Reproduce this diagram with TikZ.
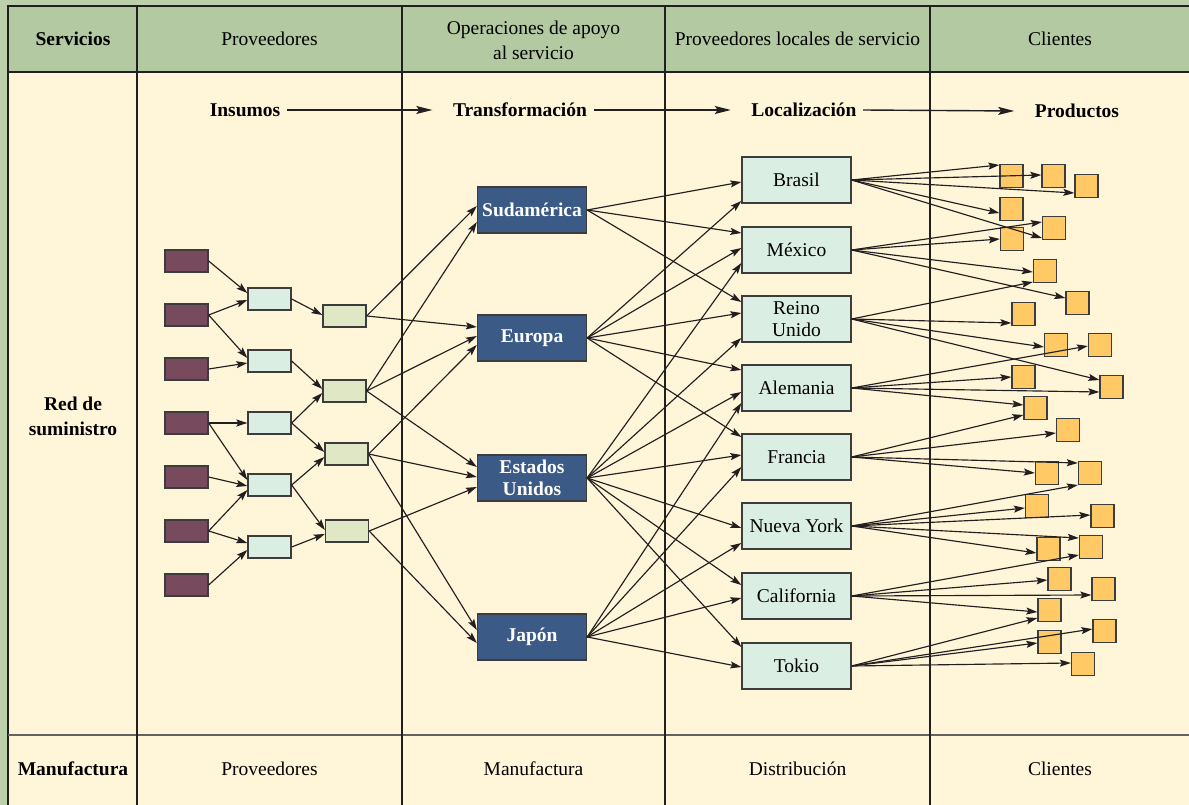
\documentclass[tikz,border=0pt]{standalone}
\usepackage{fontspec}
\setmainfont{Liberation Serif}
\usetikzlibrary{arrows.meta}
\definecolor{framec}{HTML}{BDD0AC}
\definecolor{hdrc}{HTML}{B3C9A1}
\definecolor{bodyc}{HTML}{FFF5D9}
\definecolor{purpc}{HTML}{784A5E}
\definecolor{cyanc}{HTML}{DAEEE4}
\definecolor{grc}{HTML}{DFE7C5}
\definecolor{bluec}{HTML}{3B5B86}
\definecolor{orc}{HTML}{FFC966}
\definecolor{inkc}{HTML}{231F20}
\definecolor{bordc}{HTML}{3C3C3C}
\newcommand\edgeto[3]{\draw[edgeline] (#1.east) -- ([yshift={-(#3)*1pt}]#2.west);}
\begin{document}
\begin{tikzpicture}[x=1pt,y=-1pt,
  every node/.style={font=\fontsize{19.5}{22}\selectfont, inner sep=0pt},
  txt/.style={font=\fontsize{19.5}{25}\selectfont, align=center, inner sep=6.5pt},
  btxt/.style={font=\fontsize{19.5}{25}\selectfont\bfseries, align=center, inner sep=6.5pt},
  box/.style={draw=bordc, line width=1.3pt, rectangle, inner sep=0pt},
  purpbox/.style={box, fill=purpc, minimum width=43pt, minimum height=22pt},
  cyanbox/.style={box, fill=cyanc, minimum width=43pt, minimum height=22pt},
  grbox/.style={box, fill=grc, minimum width=43pt, minimum height=22pt},
  contbox/.style={box, fill=bluec, text=white, font=\fontsize{19.5}{22}\selectfont\bfseries, align=center, minimum width=109pt, minimum height=46pt},
  regbox/.style={box, fill=cyanc, align=center, minimum width=109pt, minimum height=46pt},
  sq/.style={box, fill=orc, minimum width=23pt, minimum height=23pt},
  tline/.style={draw=inkc, line width=1.2pt},
  edgeline/.style={draw=inkc, line width=1.15pt, -{Stealth[length=11pt,width=7pt,inset=2pt]}},
  bigarrow/.style={draw=inkc, line width=1.4pt, -{Stealth[length=16pt,width=8pt,inset=3pt]}},
]
\useasboundingbox (0,0) rectangle (1189,805);
% frame and table
\fill[framec] (0,0) rectangle (1189,805);
\shade[left color=framec, middle color=framec!25!white, right color=framec] (0,0) rectangle (1189,6);
\fill[hdrc] (8,6) rectangle (1189,72);
\fill[bodyc] (8,72) rectangle (1189,805);
\draw[tline] (8,805) -- (8,6) -- (1189,6);
\draw[tline, line width=2pt] (8,72) -- (1189,72);
\draw[draw=bordc!80, line width=2.6pt] (8,735) -- (1189,735);
\foreach \x in {137,402,665,930} \draw[tline] (\x,6) -- (\x,805);

% header texts
\node[btxt] (hserv) at (73,39) {Servicios};
\node[txt] (hprov) at (269.5,39) {Proveedores};
\node[txt] (hoper) at (533.5,40) {Operaciones de apoyo\\al servicio};
\node[txt] (hloc) at (797.5,39) {Proveedores locales de servicio};
\node[txt] (hcli) at (1060,39) {Clientes};
% bottom texts
\node[btxt] (fman) at (73,769) {Manufactura};
\node[txt] (fprov) at (269.5,769) {Proveedores};
\node[txt] (fmanu) at (533.5,769) {Manufactura};
\node[txt] (fdist) at (797.5,769) {Distribución};
\node[txt] (fcli) at (1060,769) {Clientes};
% side label
\node[btxt] (red) at (73,416) {Red de\\suministro};

% stage labels
\node[btxt] (ins) at (245,110) {Insumos};
\node[btxt] (tra) at (520,110) {Transformación};
\node[btxt] (loc) at (804,110) {Localización};
\node[btxt] (pro) at (1077,111) {Productos};
\draw[bigarrow] (ins.east) -- ([xshift=-14pt]tra.west);
\draw[bigarrow] (tra.east) -- ([xshift=-14pt]loc.west);
\draw[bigarrow] (loc.east) -- ([xshift=-14pt]pro.west);

% suppliers
\node[purpbox] (P1) at (186.5,261) {};
\node[purpbox] (P2) at (186.5,315) {};
\node[purpbox] (P3) at (186.5,369) {};
\node[purpbox] (P4) at (186.5,423) {};
\node[purpbox] (P5) at (186.5,477) {};
\node[purpbox] (P6) at (186.5,531) {};
\node[purpbox] (P7) at (186.5,585) {};
\node[cyanbox] (C1) at (269.5,299) {};
\node[cyanbox] (C2) at (269.5,361) {};
\node[cyanbox] (C3) at (269.5,423) {};
\node[cyanbox] (C4) at (269.5,485) {};
\node[cyanbox] (C5) at (269.5,547) {};
\node[grbox] (G1) at (344.5,316) {};
\node[grbox] (G2) at (344.5,391) {};
\node[grbox] (G3) at (346.5,454) {};
\node[grbox] (G4) at (347,531) {};

% continents
\node[contbox] (sud) at (532,210) {Sudamérica};
\node[contbox] (eur) at (532,338) {Europa};
\node[contbox] (eu) at (532,478) {Estados\\Unidos};
\node[contbox] (jap) at (532,637) {Japón};

% local providers
\node[regbox] (bra) at (796.5,180) {Brasil};
\node[regbox] (mex) at (796.5,250) {México};
\node[regbox] (ru) at (796.5,319) {Reino\\Unido};
\node[regbox] (ale) at (796.5,388) {Alemania};
\node[regbox] (fra) at (796.5,457) {Francia};
\node[regbox] (ny) at (796.5,526) {Nueva York};
\node[regbox] (cal) at (796.5,596) {California};
\node[regbox] (tok) at (796.5,666) {Tokio};

% products
\node[sq] (O1) at (1011.5,176) {};
\node[sq] (O2) at (1053.5,176) {};
\node[sq] (O3) at (1086.5,186) {};
\node[sq] (O4) at (1011.5,209) {};
\node[sq] (O5) at (1054,228) {};
\node[sq] (O6) at (1012,239) {};
\node[sq] (O7) at (1045,271) {};
\node[sq] (O8) at (1077.5,303) {};
\node[sq] (O9) at (1023.5,314) {};
\node[sq] (O10) at (1056,345) {};
\node[sq] (O11) at (1100,345) {};
\node[sq] (O12) at (1023.5,377) {};
\node[sq] (O13) at (1111.5,387) {};
\node[sq] (O14) at (1035.5,408) {};
\node[sq] (O15) at (1068,430) {};
\node[sq] (O16) at (1047,473) {};
\node[sq] (O17) at (1090,473) {};
\node[sq] (O18) at (1037,506) {};
\node[sq] (O19) at (1102.5,516) {};
\node[sq] (O20) at (1048.5,549) {};
\node[sq] (O21) at (1091,547) {};
\node[sq] (O22) at (1059.5,579) {};
\node[sq] (O23) at (1103.5,589) {};
\node[sq] (O24) at (1049.5,610) {};
\node[sq] (O25) at (1104.5,631) {};
\node[sq] (O26) at (1049.5,642) {};
\node[sq] (O27) at (1083,664) {};

% supplier edges
\edgeto{P1}{C1}{-6}
\edgeto{P2}{C1}{1}
\edgeto{P2}{C2}{-3}
\edgeto{P3}{C2}{2}
\edgeto{P4}{C3}{0}
\edgeto{P4}{C4}{-5}
\edgeto{P5}{C4}{1}
\edgeto{P6}{C4}{5}
\edgeto{P6}{C5}{-4}
\edgeto{P7}{C5}{3}
\edgeto{C1}{G1}{-1}
\edgeto{C2}{G2}{-2}
\edgeto{C3}{G2}{2}
\edgeto{C3}{G3}{-2}
\edgeto{C4}{G3}{3}
\edgeto{C4}{G4}{-1}
\edgeto{C5}{G4}{3}
% to continents
\edgeto{G1}{sud}{-4}
\edgeto{G1}{eur}{-11}
\edgeto{G2}{sud}{12}
\edgeto{G2}{eur}{-2}
\edgeto{G2}{eu}{-11}
\edgeto{G3}{eur}{7}
\edgeto{G3}{eu}{-1}
\edgeto{G3}{jap}{-7}
\edgeto{G4}{eu}{9}
\edgeto{G4}{jap}{6}
% continents to local providers
\edgeto{sud}{bra}{2}
\edgeto{sud}{mex}{-17}
\edgeto{sud}{ru}{-17}
\edgeto{eur}{bra}{21}
\edgeto{eur}{mex}{-2}
\edgeto{eur}{ru}{-6}
\edgeto{eur}{ale}{-18}
\edgeto{eur}{fra}{-20}
\edgeto{eu}{mex}{13}
\edgeto{eu}{ru}{19}
\edgeto{eu}{ale}{4}
\edgeto{eu}{fra}{-2}
\edgeto{eu}{ny}{2}
\edgeto{eu}{cal}{-11}
\edgeto{eu}{tok}{-19}
\edgeto{jap}{ale}{15}
\edgeto{jap}{fra}{10}
\edgeto{jap}{ny}{17}
\edgeto{jap}{cal}{2}
\edgeto{jap}{tok}{1}
% local providers to products
\edgeto{bra}{O1}{-11}
\edgeto{bra}{O2}{-1}
\edgeto{bra}{O3}{7}
\edgeto{bra}{O4}{4}
\edgeto{bra}{O5}{10}
\edgeto{mex}{O5}{-6}
\edgeto{mex}{O6}{0}
\edgeto{mex}{O7}{1}
\edgeto{mex}{O8}{-5}
\edgeto{ru}{O7}{11}
\edgeto{ru}{O9}{9}
\edgeto{ru}{O10}{2}
\edgeto{ru}{O13}{-7}
\edgeto{ale}{O11}{1}
\edgeto{ale}{O12}{0}
\edgeto{ale}{O13}{5}
\edgeto{ale}{O14}{-3}
\edgeto{fra}{O14}{7}
\edgeto{fra}{O15}{3}
\edgeto{fra}{O16}{0}
\edgeto{fra}{O17}{-10}
\edgeto{ny}{O17}{12}
\edgeto{ny}{O18}{2}
\edgeto{ny}{O19}{-1}
\edgeto{ny}{O20}{4}
\edgeto{ny}{O21}{-9}
\edgeto{cal}{O21}{8}
\edgeto{cal}{O22}{1}
\edgeto{cal}{O23}{6}
\edgeto{cal}{O24}{2}
\edgeto{tok}{O24}{8}
\edgeto{tok}{O25}{-2}
\edgeto{tok}{O26}{1}
\edgeto{tok}{O27}{-1}
\end{tikzpicture}
\end{document}
